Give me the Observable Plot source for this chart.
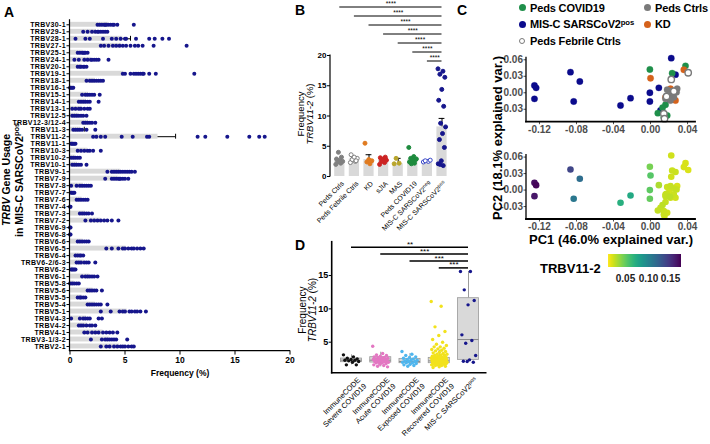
<!DOCTYPE html>
<html><head><meta charset="utf-8">
<script src="https://cdn.jsdelivr.net/npm/d3@7"></script>
<script src="https://cdn.jsdelivr.net/npm/@observablehq/plot@0.6"></script>
<style>
body{margin:0;background:#fff;}
#fig{position:relative;width:710px;height:444px;overflow:hidden;background:#fff;font-family:"Liberation Sans",Arial,Helvetica,sans-serif;}
#fig svg{overflow:visible;}
.sup{font-size:0.7em;position:relative;top:-0.45em;}
</style></head><body><div id="fig"></div>
<script>
// ================= DATA =================
// Panel A: TRBV gene usage in MIS-C SARSCoV2pos (%)
const trbvGenes = ["TRBV30-1","TRBV29-1","TRBV28-1","TRBV27-1","TRBV25-1","TRBV24-1","TRBV20-1","TRBV19-1","TRBV18-1","TRBV16-1","TRBV15-1","TRBV14-1","TRBV13-1","TRBV12-5","TRBV12-3/12-4","TRBV11-3","TRBV11-2","TRBV11-1","TRBV10-3","TRBV10-2","TRBV10-1","TRBV9-1","TRBV7-9","TRBV7-8","TRBV7-7","TRBV7-6","TRBV7-4","TRBV7-3","TRBV7-2","TRBV6-9","TRBV6-8","TRBV6-6","TRBV6-5","TRBV6-4","TRBV6-2/6-3","TRBV6-2","TRBV6-1","TRBV5-8","TRBV5-6","TRBV5-5","TRBV5-4","TRBV5-1","TRBV4-3","TRBV4-2","TRBV4-1","TRBV3-1/3-2","TRBV2-1"];
const trbvMeans = [3.5,2.4,4.8,4.7,1.2,1.9,1.1,4.9,2.3,0.15,1.7,1.5,1.1,0.8,1.7,1.0,8.0,0.3,1.6,0.5,0.7,4.6,4.4,1.2,0.2,1.1,0.03,1.4,2.8,0.03,0.03,1.2,5.1,0.9,1.3,0.3,1.8,0.4,2.1,1.1,2.3,5.2,1.5,1.6,3.0,3.6,4.5];
const trbvValues = [
 [2.5,2.7,2.9,3.1,3.2,3.3,3.5,3.7,3.9,4.0,4.3,5.8],
 [1.2,1.6,2.0,2.3,2.5,2.6,2.8,3.0,3.2,3.4],
 [0.5,1.4,1.8,3.0,3.8,4.2,4.6,5.0,5.1,6.0,7.2,7.7,8.4,9.0],
 [2.8,3.1,3.5,3.9,4.2,4.5,4.8,5.1,5.5,5.9,6.2,6.6,7.6,10.6],
 [0.7,0.9,1.1,1.2,1.3,1.4,1.6],
 [0.4,0.8,1.3,1.6,1.9,2.0,2.2,2.4,2.6,3.5],
 [0.7,0.9,1.0,1.2,1.3,1.5],
 [4.8,5.0,5.5,5.8,6.0,6.2,6.4,6.6,6.7,7.2,7.8,11.3],
 [1.5,1.8,2.0,2.2,2.4,2.6,2.8,3.0],
 [0.0,0.1,0.2,0.3],
 [1.1,1.4,1.6,1.8,2.0,2.2,2.7],
 [0.8,1.0,1.2,1.4,1.6,1.8,2.6],
 [0.2,0.5,0.8,1.0,1.3,1.6,1.8],
 [0.2,0.4,0.6,0.8,1.0,1.2,1.5],
 [1.2,1.4,1.6,1.8,2.0,2.3],
 [0.3,0.5,0.7,0.9,1.1,1.5,2.3],
 [2.1,2.4,2.8,3.2,4.7,5.7,7.0,7.2,11.6,12.3,14.3,16.3,17.2,17.7],
 [0.1,0.2,0.3,0.4,0.5],
 [0.7,1.0,1.3,1.6,1.8,2.1,2.8],
 [0.1,0.3,0.5,0.7,0.9],
 [0.2,0.4,0.6,0.8,1.0,1.5],
 [3.4,3.8,4.0,4.2,4.4,4.6,4.8,5.0,5.2,5.4,5.6,5.9],
 [3.2,3.8,4.0,4.2,4.4,4.5,4.6,4.8,5.0,5.3],
 [0.1,0.6,0.9,1.1,1.3,1.5,1.7,1.9],
 [0.1,0.2,0.3,0.4],
 [0.6,0.8,1.0,1.2,1.4,1.6],
 [0.0,0.05],
 [0.9,1.1,1.3,1.5,1.7,2.0],
 [1.4,1.9,2.2,2.5,2.8,3.1,3.4,3.8,4.4],
 [0.0,0.05],
 [0.0,0.05],
 [0.7,0.9,1.1,1.3,1.5,1.7],
 [3.3,3.8,4.4,4.8,5.0,5.3,5.6,5.8,6.1,6.4,6.7],
 [0.5,0.7,0.9,1.0,1.2],
 [0.6,0.8,1.0,1.3,1.5,1.7,2.3],
 [0.1,0.2,0.3,0.4,0.5],
 [1.1,1.4,1.6,1.8,2.0,2.2,2.5],
 [0.0,0.2,0.4,0.6,0.8],
 [1.6,1.8,2.0,2.2,2.4,2.9],
 [0.7,0.9,1.0,1.2,1.4],
 [1.6,1.8,2.0,2.2,2.4,2.6,2.8,3.4],
 [2.8,3.7,4.5,4.8,5.0,5.4,5.6,5.9,6.1,6.4,6.9],
 [0.1,0.9,1.2,1.4,1.6,1.8,2.6,2.9],
 [0.8,1.0,1.2,1.5,1.8,2.0,2.3],
 [1.3,1.6,2.0,2.3,2.6,3.0,3.3,3.6,3.9,4.3],
 [1.9,2.9,3.2,3.4,3.6,3.8,4.0,4.2,5.2],
 [2.8,3.3,3.6,4.0,4.3,4.6,4.8,5.0,5.3,5.6,5.8]
];
const trbvSemGenes = ["TRBV28-1","TRBV11-3","TRBV11-2"];
const trbvSemValues = [0.7,0.3,1.6];
const aTicks = [0,5,10,15,20];

// Panel B: TRBV11-2 frequency (%)
const bGroups = ["Peds Ctrls","Peds Febrile Ctrls","KD","sJIA","MAS","Peds COVID19","MIS-C SARSCoV2neg","MIS-C SARSCoV2pos"];
const bMeans = [2.6,2.9,2.8,2.7,2.1,2.8,2.5,8.2];
const bSem   = [0.2,0.2,0.8,0.2,0.9,0.3,0.1,1.4];
const bValues = [
 [2.0,2.2,2.4,2.5,2.7,2.9,3.2,4.0],
 [2.3,2.5,2.8,3.0,3.2,3.6,2.6],
 [5.5,2.1,2.4,2.6,2.8],
 [2.0,2.3,2.5,2.7,2.9,3.1,3.2],
 [2.1,2.2,3.0],
 [4.8,3.3,3.0,2.8,2.6,2.4,2.2,2.1,2.9],
 [2.4,2.5,2.6,2.7],
 [17.8,17.4,16.9,16.4,14.4,12.6,11.6,8.8,8.2,7.1,6.1,4.8,2.6,2.1,1.8,2.0]
];
const bStars = ["****","****","****","****","****","****","****"];
const bTicks = [0,5,10,15,20];

// Panel C: PCA
const pcGroupNames = ["Peds COVID19","MIS-C SARSCoV2pos","Peds Febrile Ctrls","Peds Ctrls","KD"];
const pcGroup = [
 "MIS-C SARSCoV2pos","MIS-C SARSCoV2pos","MIS-C SARSCoV2pos","MIS-C SARSCoV2pos","MIS-C SARSCoV2pos","MIS-C SARSCoV2pos","MIS-C SARSCoV2pos","MIS-C SARSCoV2pos","MIS-C SARSCoV2pos","MIS-C SARSCoV2pos","MIS-C SARSCoV2pos","MIS-C SARSCoV2pos","MIS-C SARSCoV2pos","MIS-C SARSCoV2pos","MIS-C SARSCoV2pos",
 "Peds COVID19","Peds COVID19","Peds COVID19","Peds COVID19","Peds COVID19","Peds COVID19","Peds COVID19","Peds COVID19",
 "KD","KD","KD","KD","KD",
 "Peds Ctrls","Peds Ctrls","Peds Ctrls","Peds Ctrls","Peds Ctrls","Peds Ctrls","Peds Ctrls","Peds Ctrls",
 "Peds Febrile Ctrls","Peds Febrile Ctrls","Peds Febrile Ctrls","Peds Febrile Ctrls","Peds Febrile Ctrls","Peds Febrile Ctrls"];
const pc1 = [-0.1254,-0.1236,-0.1254,-0.0865,-0.0764,-0.083,-0.0324,-0.0216,-0.0007,-0.0007,0.009,0.0224,0.027,0.0108,0.021,
 -0.0007,0.0234,0.0378,0.0162,0.0079,0.018,0.0144,0.013,
 0.0,0.036,0.0216,0.027,0.0162,
 0.018,0.0234,0.0281,0.0198,0.0252,0.0162,0.0288,0.0216,
 0.0407,0.0224,0.0252,0.0173,0.0144,0.0151];
const pc2 = [0.0133,0.009,-0.011,0.0375,0.0205,-0.0158,-0.023,-0.0098,0.0,-0.0158,0.009,0.063,0.033,-0.032,-0.012,
 0.0424,0.0357,0.049,-0.0218,-0.037,-0.0413,-0.0443,-0.027,
 0.0265,0.0418,0.0073,-0.014,-0.008,
 0.0055,0.003,0.001,-0.005,-0.008,-0.011,0.0073,-0.014,
 0.0364,0.0242,0.003,-0.0067,-0.038,-0.047];
const pcTrbv112 = [0.168,0.172,0.164,0.14,0.116,0.11,0.072,0.076,0.052,0.05,0.032,0.024,0.025,0.026,0.028,
 0.045,0.025,0.022,0.026,0.027,0.024,0.025,0.028,
 0.055,0.022,0.026,0.024,0.025,
 0.025,0.024,0.026,0.023,0.025,0.027,0.022,0.024,
 0.021,0.024,0.025,0.026,0.025,0.023];
const pcXTicks = [-0.12,-0.08,-0.04,0,0.04];
const pcYTicks = [-0.03,0,0.03,0.06];
const trbvColorTicks = [0.05,0.10,0.15];

// Panel D: ImmuneCODE comparison
const dGroups = ["ImmuneCODE\nSevere COVID19","ImmuneCODE\nAcute COVID19","ImmuneCODE\nExposed COVID19","ImmuneCODE\nRecovered COVID19","MIS-C SARSCoV2pos"];
const dValues = [
 [3.1,2.8,2.6,2.5,2.4,2.3,2.3,2.2,2.1,2.0,1.6,1.6],
 [4.4,3.3,3.1,3.0,2.9,2.8,2.7,2.7,2.6,2.6,2.5,2.5,2.4,2.4,2.3,2.3,2.2,2.2,2.1,2.1,2.0,2.0,1.9,1.9,1.8,1.7,1.6,1.5,1.4,1.3],
 [3.6,3.2,3.0,2.8,2.7,2.6,2.5,2.4,2.3,2.3,2.2,2.1,2.1,2.0,1.9,1.9,1.8,1.7,1.6,1.5,1.4],
 [11.1,10.4,7.3,6.6,6.0,5.4,5.0,4.7,4.5,4.3,4.3,4.1,4.0,3.9,3.8,3.7,3.6,3.5,3.4,3.3,3.2,3.2,3.1,3.0,3.0,2.9,2.9,2.8,2.8,2.7,2.7,2.7,2.6,2.6,2.6,2.5,2.5,2.5,2.5,2.4,2.4,2.4,2.4,2.3,2.3,2.3,2.3,2.2,2.2,2.2,2.2,2.1,2.1,2.1,2.1,2.0,2.0,2.0,2.0,1.9,1.9,1.9,1.8,1.8,1.8,1.7,1.7,1.6,1.6,1.5,1.5,1.4,1.3,1.2],
 [15.6,15.6,12.85,11.25,10.6,6.1,5.25,4.85,3.0,2.35,2.15,2.0,2.1]
];
const dQ1  = [2.0,1.95,1.85,1.85,2.35];
const dMed = [2.3,2.3,2.1,2.2,5.4];
const dQ3  = [2.55,2.75,2.5,2.65,11.6];
const dLo  = [1.6,1.3,1.4,1.2,2.0];
const dHi  = [3.1,3.5,3.3,3.8,15.6];
const dStars = ["**","***","***","***"];
const dTicks = [5,10,15];

// ================= HELPERS =================
const fig = document.getElementById("fig");
const FONT = '"Liberation Sans", Arial, Helvetica, sans-serif';
function place(node, left, top){ node.style.position="absolute"; node.style.left=left+"px"; node.style.top=top+"px"; fig.appendChild(node); return node; }
function label(html, cx, cy, o={}){
  const {size=12, weight="bold", rotate=0, color="#000", lh=1, align="center", anchor="middle", ls=0} = o;
  const d=document.createElement("div"); d.innerHTML=html;
  const tx = anchor==="start" ? "0" : "-50%";
  d.style.cssText=`position:absolute;left:${cx}px;top:${cy}px;font-family:${FONT};font-weight:${weight};font-size:${size}px;color:${color};white-space:nowrap;line-height:${lh};letter-spacing:${ls}px;text-align:${align};transform:translate(${tx},-50%) rotate(${rotate}deg);`;
  fig.appendChild(d); return d;
}
function axisLines(sides, sw=1){
  return (index, scales, values, dim) => {
    const {width,height,marginTop,marginRight,marginBottom,marginLeft} = dim;
    const g = d3.create("svg:g").attr("stroke","#000").attr("stroke-width",sw).attr("stroke-linecap","square");
    if (sides.includes("left")) g.append("line").attr("x1",marginLeft).attr("x2",marginLeft).attr("y1",marginTop).attr("y2",height-marginBottom);
    if (sides.includes("bottom")) g.append("line").attr("x1",marginLeft).attr("x2",width-marginRight).attr("y1",height-marginBottom).attr("y2",height-marginBottom);
    return g.node();
  };
}
function supify(svg){
  svg.querySelectorAll("text, tspan").forEach(t=>{
    if (t.children.length) return;
    const m = t.textContent.match(/^(.*SARSCoV2)(pos|neg)$/);
    if (m){ t.textContent=m[1]; const s=document.createElementNS("http://www.w3.org/2000/svg","tspan"); s.setAttribute("dy","-2.5"); s.setAttribute("style","font-size:72%"); s.textContent=m[2]; t.appendChild(s); }
  });
}
const jit = k => ((k*0.6180339887)%1) - 0.5;
const baseStyle = {fontFamily: FONT, background:"transparent", overflow:"visible", color:"#000"};

// ================= PANEL A =================
const aRows = trbvGenes.map((g,i)=>({gene:g, mean:trbvMeans[i]}));
const aDots = trbvGenes.flatMap((g,i)=>trbvValues[i].map(v=>({gene:g, v})));
const aErr = trbvSemGenes.map((g,i)=>({gene:g, lo:trbvMeans[trbvGenes.indexOf(g)], hi:trbvMeans[trbvGenes.indexOf(g)]+trbvSemValues[i]}));
const plotA = Plot.plot({
  width:300, height:385, marginLeft:69.5, marginRight:10.5, marginTop:19.75, marginBottom:34.45,
  style:{...baseStyle, fontWeight:"bold", fontSize:"7px"},
  x:{domain:[0,20]}, y:{domain:trbvGenes, padding:0.3},
  marks:[
    Plot.barX(aRows,{x:"mean", y:"gene", fill:"#d9d9d9"}),
    Plot.ruleY(aErr,{y:"gene", x1:"lo", x2:"hi", stroke:"#000", strokeWidth:1}),
    Plot.tickX(aErr,{x:"hi", y:"gene", stroke:"#000", strokeWidth:1}),
    Plot.dot(aDots,{x:"v", y:"gene", r:2, fill:"#16168c"}),
    Plot.axisY({tickSize:3, tickPadding:1, fontSize:7, fontWeight:"bold", label:null}),
    Plot.axisX({ticks:aTicks, tickSize:4, tickPadding:2, fontSize:8.5, fontWeight:"bold", label:null}),
    axisLines(["left","bottom"], 1.2)
  ]
});
plotA.querySelectorAll('[aria-label="y-axis tick label"] text').forEach(t=>t.setAttribute("letter-spacing","0.35"));
place(plotA, 0, 0);
label("A", 9, 12, {size:14});
label("Frequency (%)", 180, 373, {size:8.5});
label('<div><i>TRBV</i> Gene Usage</div><div>in MIS-C SARSCoV2<span class="sup">pos</span></div>', 13, 180, {size:10.5, rotate:-90, lh:1.2});

// ================= PANEL B =================
const bColorsFill   = ["#808080","#ffffff","#e07b20","#cc2424","#b9a62c","#1e8b3e","#ffffff","#16168c"];
const bColorsStroke = ["#808080","#808080","#e07b20","#cc2424","#b9a62c","#1e8b3e","#3a48c8","#16168c"];
const bRows = bGroups.map((g,i)=>({i, g, mean:bMeans[i], hi:bMeans[i]+bSem[i]}));
const bDots = bGroups.flatMap((g,i)=>bValues[i].map((v,k)=>({i, k, v, f:bColorsFill[i], s:bColorsStroke[i]})));
const bComps = bStars.map((s,i)=>({from:i, to:bGroups.length-1, s, row:i}));
const bRowY = r => 20 + (55 - (6.5 + 9*r))/6.05;
const plotB = Plot.plot({
  width:175, height:200, marginLeft:50, marginRight:6.2, marginTop:55, marginBottom:24,
  style:{...baseStyle, fontSize:"8px"},
  x:{domain:[-0.637,7.5], axis:null}, y:{domain:[0,20]}, color:{type:"identity"},
  marks:[
    Plot.rectY(bRows,{x1:d=>d.i-0.35, x2:d=>d.i+0.35, y:"mean", fill:"#d9d9d9"}),
    Plot.ruleX(bRows,{x:"i", y1:"mean", y2:"hi", stroke:"#000"}),
    Plot.ruleY(bRows,{y:"hi", x1:d=>d.i-0.2, x2:d=>d.i+0.2, stroke:"#000"}),
    Plot.dot(bDots,{x:d=>d.i+jit(d.k)*0.55, y:"v", r:2, fill:"f", stroke:"s", strokeWidth:1}),
    Plot.axisY({ticks:bTicks, tickSize:3, tickPadding:1, fontSize:8, fontWeight:"bold", label:null}),
    axisLines(["left"], 1.2),
    Plot.text(bRows,{x:"i", y:0, text:"g", rotate:-45, textAnchor:"end", dx:3, dy:6, fontSize:7}),
    Plot.ruleY(bComps,{y:d=>bRowY(d.row), x1:"from", x2:"to", stroke:"#000", strokeWidth:1}),
    Plot.text(bComps,{y:d=>bRowY(d.row), x:d=>(d.from+d.to)/2, text:"s", dy:-3, fontSize:6.5})
  ]
});
supify(plotB);
place(plotB, 280, 0);
label("B", 300, 10, {size:14});
label('<div>Frequency</div><div><i>TRBV11-2</i> (%)</div>', 305, 114, {size:9.5, weight:"normal", rotate:-90, lh:0.95});

// ================= PANEL C =================
const pcFill = {"Peds COVID19":"#1f8f4a","MIS-C SARSCoV2pos":"#0b0b8c","Peds Ctrls":"#7a7a7a","KD":"#d5621b","Peds Febrile Ctrls":"#ffffff"};
const pcStroke = {"Peds COVID19":"#1f8f4a","MIS-C SARSCoV2pos":"#0b0b8c","Peds Ctrls":"#7a7a7a","KD":"#d5621b","Peds Febrile Ctrls":"#7a7a7a"};
const pcPts = pc1.map((x,i)=>({pc1:x, pc2:pc2[i], g:pcGroup[i], t:pcTrbv112[i]}));
const drawOrder = ["MIS-C SARSCoV2pos","Peds COVID19","KD","Peds Ctrls","Peds Febrile Ctrls"];
const pcSorted = drawOrder.flatMap(g=>pcPts.filter(d=>d.g===g));
const cCommon = {width:220, height:90, marginLeft:40, marginRight:11, marginBottom:16.3,
  x:{domain:[-0.134,0.0486]}, y:{domain:[-0.0535,0.0636]}, style:{...baseStyle, fontSize:"10px", fontWeight:"bold"}};
const cAxes = () => [
  Plot.axisY({ticks:pcYTicks, tickFormat:d=>d.toFixed(2), tickSize:2.5, tickPadding:1, fontSize:10, fontWeight:"bold", color:"#4d4d4d", label:null}),
  Plot.axisX({ticks:pcXTicks, tickFormat:d=>d.toFixed(2), tickSize:2.5, tickPadding:1, fontSize:10, fontWeight:"bold", color:"#4d4d4d", label:null}),
  axisLines(["left"], 1.3), axisLines(["bottom"], 1.8)
];
const plotC1 = Plot.plot({...cCommon, marginTop:9.3, color:{type:"identity"}, marks:[
  Plot.dot(pcSorted,{x:"pc1", y:"pc2", r:3.2, fill:d=>pcFill[d.g], stroke:d=>pcStroke[d.g], strokeWidth:d=>d.g==="Peds Febrile Ctrls"?1.4:0.3}),
  ...cAxes()
]});
place(plotC1, 486, 48);
const plotC2 = Plot.plot({...cCommon, marginTop:9.6, marginBottom:16,
  color:{type:"linear", scheme:"viridis", reverse:true, domain:[0.012,0.174]}, marks:[
  Plot.dot(pcPts,{x:"pc1", y:"pc2", r:3.3, fill:"t", sort:"t"}),
  ...cAxes()
]});
place(plotC2, 486, 145);
label("C", 462, 10, {size:14});
label("PC1 (46.0% explained var.)", 611, 239, {size:13});
label("PC2 (18.1% explained var.)", 497, 138, {size:13, rotate:-90});
label("TRBV11-2", 540, 268, {size:13, anchor:"start"});
const ramp = Plot.legend({color:{type:"linear", scheme:"viridis", reverse:true, domain:[0.012,0.174]},
  label:null, width:73, height:30, marginLeft:0, marginRight:0, marginTop:0, marginBottom:17, tickSize:0,
  ticks:trbvColorTicks, tickFormat:d=>d.toFixed(2), style:{fontFamily:FONT, fontSize:"10px", fontWeight:"bold", background:"transparent", overflow:"visible", color:"#222"}});
ramp.querySelectorAll(".tick text").forEach(t=>t.setAttribute("y", 7.5));
ramp.querySelectorAll(".tick line, .domain").forEach(p=>p.remove());
place(ramp, 608, 254);
// legend
const legPos = {"Peds COVID19":[522,7.5],"MIS-C SARSCoV2pos":[522,24],"Peds Febrile Ctrls":[522,41],"Peds Ctrls":[647,7.5],"KD":[647,24]};
pcGroupNames.forEach(g=>{
  const [x,y]=legPos[g];
  const dot=document.createElement("div");
  const open = g==="Peds Febrile Ctrls";
  dot.style.cssText=`position:absolute;left:${x-3.5}px;top:${y-3.5}px;width:${open?4.6:7}px;height:${open?4.6:7}px;border-radius:50%;background:${pcFill[g]};border:${open?"1.2px solid "+pcStroke[g]:"none"};`;
  fig.appendChild(dot);
  label(g.replace(/(pos)$/,'<span class="sup">$1</span>'), x+8, y, {size:11, anchor:"start", ls:-0.15});
});

// ================= PANEL D =================
const dColors = ["#111111","#e377c2","#4fb6ee","#f2e21d","#16168c"];
const dRows = dGroups.map((g,i)=>({i, g, q1:dQ1[i], med:dMed[i], q3:dQ3[i], lo:dLo[i], hi:dHi[i]}));
const dDots = dValues.flatMap((vals,i)=>vals.map((v,k)=>({i, k, v, c:dColors[i]})));
const dComps = dStars.map((s,i)=>({from:i, to:dGroups.length-1, s, row:i}));
const dRowY = r => 19.25 - 1.035*r;
const plotD = Plot.plot({
  width:200, height:155, marginLeft:41.7, marginRight:4.3, marginTop:11.7, marginBottom:12.3,
  style:{...baseStyle, fontSize:"9px"},
  x:{domain:[-0.66,4.605], axis:null}, y:{domain:[0.35,20]}, color:{type:"identity"},
  marks:[
    Plot.ruleX(dRows,{x:"i", y1:"q3", y2:"hi", stroke:"#9a9a9a"}),
    Plot.ruleX(dRows,{x:"i", y1:"lo", y2:"q1", stroke:"#9a9a9a"}),
    Plot.rectY(dRows,{x1:d=>d.i-0.36, x2:d=>d.i+0.36, y1:"q1", y2:"q3", fill:"#d9d9d9", stroke:"#9a9a9a", strokeWidth:0.8}),
    Plot.ruleY(dRows,{y:"med", x1:d=>d.i-0.36, x2:d=>d.i+0.36, stroke:"#8a8a8a", strokeWidth:1}),
    Plot.dot(dDots,{x:d=>d.i+jit(d.k)*0.55, y:"v", r:1.7, fill:"c"}),
    Plot.axisY({ticks:dTicks, tickSize:3, tickPadding:1, fontSize:9, fontWeight:"bold", label:null}),
    axisLines(["left","bottom"], 1.6),
    Plot.text(dRows,{x:"i", y:0.35, text:"g", rotate:-45, textAnchor:"end", lineAnchor:"top", dx:5, dy:3, fontSize:7.5, lineHeight:1.15}),
    Plot.ruleY(dComps,{y:d=>dRowY(d.row), x1:"from", x2:"to", stroke:"#000", strokeWidth:1.5}),
    Plot.text(dComps,{y:d=>dRowY(d.row), x:d=>(d.from+d.to)/2, text:"s", dy:-3, fontSize:8})
  ]
});
supify(plotD);
place(plotD, 290, 230);
label("D", 300, 245, {size:14});
label('<div>Frequency</div><div><i>TRBV11-2</i> (%)</div>', 308, 310, {size:10, weight:"normal", rotate:-90, lh:1.0});
</script></body></html>
